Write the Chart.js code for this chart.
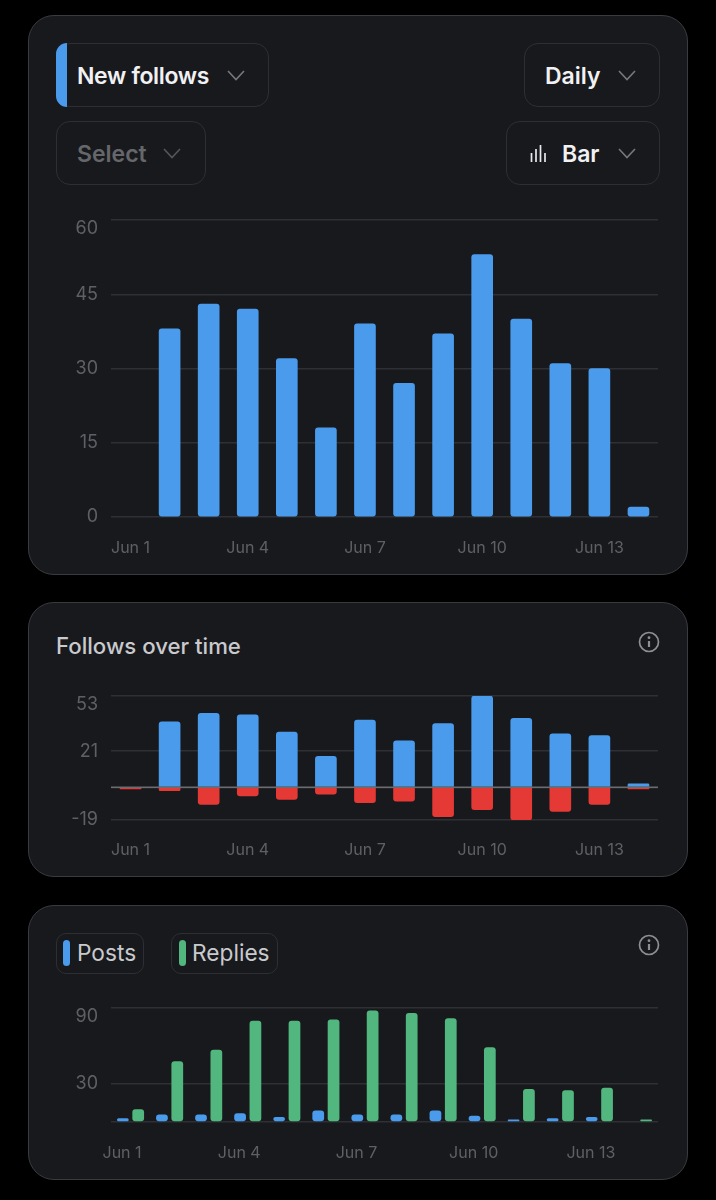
<!DOCTYPE html>
<html>
<head>
<meta charset="utf-8">
<script src="https://cdn.jsdelivr.net/npm/chart.js@4"></script>
<style>
html,body{margin:0;padding:0;background:#000;width:716px;height:1200px;overflow:hidden;font-family:Inter,"Noto Sans",sans-serif}
.abs,.card,.btn,canvas,.t,svg{position:absolute}
.card{left:28px;width:660px;background:#18191d;border:1.5px solid #3a3b40;border-radius:26px;box-sizing:border-box}
.btn{border:1.5px solid #2e2f34;border-radius:14px;box-sizing:border-box;background:#18191d}
.t{white-space:nowrap;line-height:1;transform:translateY(-50%)}
.b{font-weight:600;font-size:23px;color:#f1f1f3}
.chev{fill:none;stroke:#77787c;stroke-width:1.6}
canvas{left:28px}
</style>
</head>
<body>
<div class="card" style="top:15px;height:560px"></div>
<div class="card" style="top:602px;height:275px"></div>
<div class="card" style="top:905px;height:275px"></div>

<div class="btn" style="left:56px;top:43px;width:213px;height:64px"></div>
<div class="abs" style="left:56px;top:43px;width:11px;height:64px;background:#4a9bec;border-radius:12px 0 0 12px"></div>
<div class="t b" style="left:77px;top:76px;letter-spacing:-0.35px">New follows</div>
<svg style="left:227px;top:70px" width="18" height="11"><polyline class="chev" points="1,1 9,9.5 17,1"/></svg>

<div class="btn" style="left:524px;top:43px;width:136px;height:64px"></div>
<div class="t b" style="left:545px;top:76px">Daily</div>
<svg style="left:618px;top:70px" width="18" height="11"><polyline class="chev" points="1,1 9,9.5 17,1"/></svg>

<div class="btn" style="left:56px;top:121px;width:150px;height:64px"></div>
<div class="t b" style="left:77px;top:154px;color:#66676b">Select</div>
<svg style="left:163px;top:148px" width="18" height="11"><polyline class="chev" style="stroke:#55565a" points="1,1 9,9.5 17,1"/></svg>

<div class="btn" style="left:506px;top:121px;width:154px;height:64px"></div>
<svg style="left:530px;top:145px" width="17" height="18"><g stroke="#e8e8ea" stroke-width="1.7"><line x1="1.5" y1="8" x2="1.5" y2="17"/><line x1="6" y1="4" x2="6" y2="17"/><line x1="10.5" y1="0" x2="10.5" y2="17"/><line x1="15" y1="8" x2="15" y2="17"/></g></svg>
<div class="t b" style="left:562px;top:154px">Bar</div>
<svg style="left:618px;top:148px" width="18" height="11"><polyline class="chev" points="1,1 9,9.5 17,1"/></svg>

<div class="t" style="left:56px;top:646px;font-size:22.2px;font-weight:500;color:#c9cacd">Follows over time</div>
<svg style="left:638px;top:631px" width="22" height="22"><circle cx="11" cy="11" r="9.5" fill="none" stroke="#8e8f93" stroke-width="1.7"/><circle cx="11" cy="6.7" r="1.4" fill="#8e8f93"/><line x1="11" y1="10" x2="11" y2="16" stroke="#8e8f93" stroke-width="2.2"/></svg>
<svg style="left:638px;top:934px" width="22" height="22"><circle cx="11" cy="11" r="9.5" fill="none" stroke="#8e8f93" stroke-width="1.7"/><circle cx="11" cy="6.7" r="1.4" fill="#8e8f93"/><line x1="11" y1="10" x2="11" y2="16" stroke="#8e8f93" stroke-width="2.2"/></svg>

<div class="btn" style="left:56px;top:933px;width:88px;height:41px;border-radius:10px"></div>
<div class="abs" style="left:63px;top:940px;width:7px;height:26px;border-radius:4px;background:#4a9bec"></div>
<div class="t" style="left:77px;top:953px;font-size:22.7px;color:#c9cacd">Posts</div>
<div class="btn" style="left:171px;top:933px;width:107px;height:41px;border-radius:10px"></div>
<div class="abs" style="left:179px;top:940px;width:7px;height:26px;border-radius:4px;background:#52b67f"></div>
<div class="t" style="left:192px;top:953px;font-size:22.7px;color:#c9cacd">Replies</div>

<canvas id="c1" width="660" height="373" style="top:189px"></canvas>
<canvas id="c2" width="660" height="200" style="top:665px"></canvas>
<canvas id="c3" width="660" height="190" style="top:977px"></canvas>

<script>
const categories = ["Jun 1","Jun 2","Jun 3","Jun 4","Jun 5","Jun 6","Jun 7","Jun 8","Jun 9","Jun 10","Jun 11","Jun 12","Jun 13","Jun 14"];
const newFollows = [null,38,43,42,32,18,39,27,37,53,40,31,30,2];
const unfollows = [-1,-2,-10,-5,-7,-4,-9,-8,-17,-13,-19,-14,-10,-1];
const posts = [3,6,6,7,4,9,6,6,9,5,2,3,4,null];
const replies = [10,48,57,80,80,81,88,86,82,59,26,25,27,2];
const ticksFollows = [0,15,30,45,60];
const ticksNet = [-19,0,21,53];
const ticksContent = [0,30,90];
const hiddenTickLabels = {net:[0], content:[0]};

const BLUE = "#4a9bec", RED = "#e53935", GREEN = "#52b67f", GRID = "#2f3035", TICK = "#5f6065";

function yAxis(ticks, hidden, min, max){
  const top = ticks[ticks.length-1];
  return {
    min, max, stacked:true,
    afterFit(s){ s.width = 83; },
    afterBuildTicks(s){ s.ticks = ticks.map(v=>({value:v})); },
    border:{display:false},
    grid:{color:GRID, lineWidth:1.5, drawTicks:false},
    ticks:{
      color:TICK, padding:13, autoSkip:false,
      font:{family:"Inter", size:18, lineHeight:1},
      callback(v){
        if(hidden.includes(v)) return "";
        return v===top ? ["", String(v)] : String(v);
      }
    }
  };
}
function xAxis(stacked, labelOffset, pad){
  return {
    stacked,
    afterFit(s){ s.height = 45; },
    border:{display:false},
    grid:{display:false},
    ticks:{
      color:TICK, padding:pad, autoSkip:false, maxRotation:0, minRotation:0, labelOffset,
      font:{family:"Inter", size:16, lineHeight:1},
      callback(v,i){ return i%3===0 ? categories[i] : ""; }
    }
  };
}
const base = {
  responsive:false, animation:false, devicePixelRatio:window.devicePixelRatio,
  layout:{padding:{top:20,right:30,bottom:0,left:0}},
  plugins:{legend:{display:false},tooltip:{enabled:false}}
};
const zeroLine = {
  id:"zeroLine",
  afterDatasetsDraw(chart){
    const {ctx,chartArea,scales} = chart;
    const y = scales.y.getPixelForValue(0);
    ctx.save();
    ctx.strokeStyle = "#6b6c71";
    ctx.lineWidth = 1.5;
    ctx.beginPath();
    ctx.moveTo(chartArea.left,y);
    ctx.lineTo(chartArea.right,y);
    ctx.stroke();
    ctx.restore();
  }
};

new Chart(document.getElementById("c1"),{
  type:"bar",
  data:{labels:categories,datasets:[{label:"New follows",data:newFollows,backgroundColor:BLUE,barThickness:21,borderRadius:3,borderSkipped:false}]},
  options:{...base,scales:{x:xAxis(false,0,15),y:yAxis(ticksFollows,[],0,60)}}
});

new Chart(document.getElementById("c2"),{
  type:"bar",
  data:{labels:categories,datasets:[
    {label:"Follows",data:newFollows,backgroundColor:BLUE,barThickness:21,borderRadius:{topLeft:3,topRight:3,bottomLeft:0,bottomRight:0},borderSkipped:false},
    {label:"Unfollows",data:unfollows,backgroundColor:RED,barThickness:21,borderRadius:{topLeft:0,topRight:0,bottomLeft:3,bottomRight:3},borderSkipped:false}
  ]},
  options:{...base,scales:{x:xAxis(true,0,14),y:yAxis(ticksNet,hiddenTickLabels.net,-19,53)}},
  plugins:[zeroLine]
});

new Chart(document.getElementById("c3"),{
  type:"bar",
  data:{labels:categories,datasets:[
    {label:"Posts",data:posts,backgroundColor:BLUE,categoryPercentage:0.785,barPercentage:0.765,borderRadius:3,borderSkipped:false},
    {label:"Replies",data:replies,backgroundColor:GREEN,categoryPercentage:0.785,barPercentage:0.765,borderRadius:3,borderSkipped:false}
  ]},
  options:{...base,scales:{x:xAxis(false,-8.5,15),y:{...yAxis(ticksContent,hiddenTickLabels.content,0,90),stacked:false}}}
});
</script>
</body>
</html>
